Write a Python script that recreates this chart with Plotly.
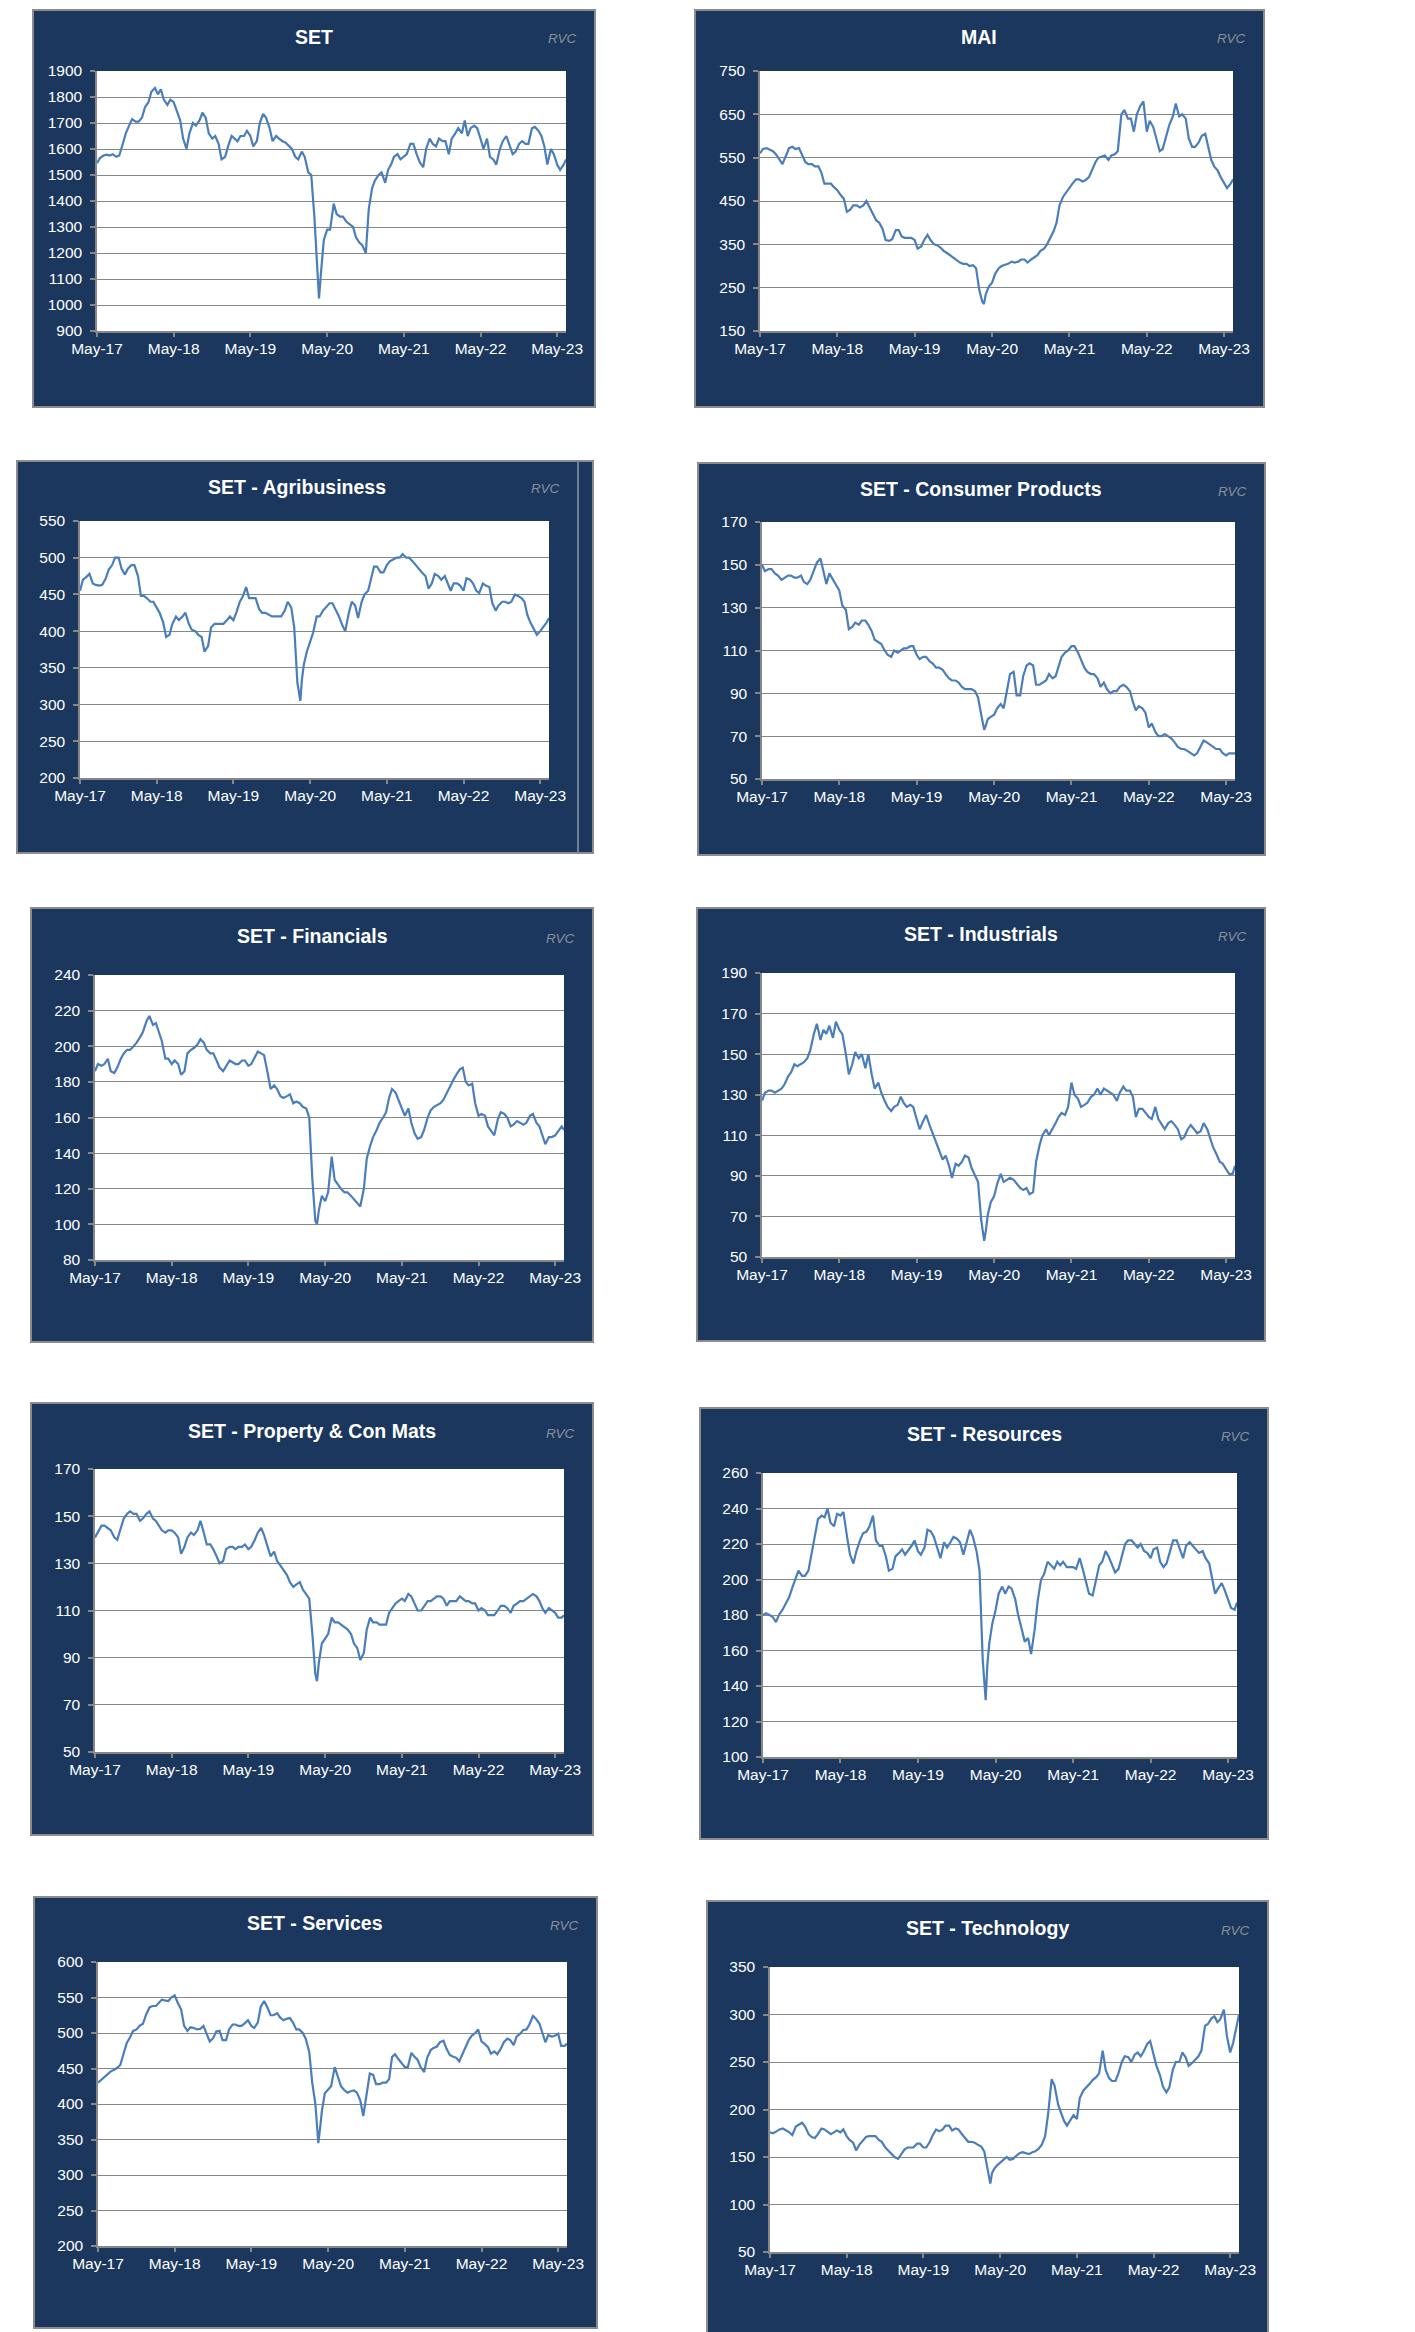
import pandas as pd
import plotly.graph_objects as go

W, H = 1415, 2332
OFF = 8  # the page body margin shifts the figure by 8px
FONT = "Liberation Sans, Arial, sans-serif"
NAVY = "#1B375E"
BORDER = "#8C8C8C"
GRID = "#878787"
LINE = "#4A7EBB"

# Sampling dates: 1st and 15th of each month, plus the Covid low (23 Mar 2020) and the last point
dates = list(pd.date_range("2017-05-01", "2023-06-01", freq="SMS"))
dates.insert(dates.index(pd.Timestamp("2020-04-01")), pd.Timestamp("2020-03-23"))
dates.append(pd.Timestamp("2023-06-12"))

TICK_DATES = ["2017-05-01", "2018-05-01", "2019-05-01", "2020-05-01",
              "2021-05-01", "2022-05-01", "2023-05-01"]
TICK_TEXT = ["May-17", "May-18", "May-19", "May-20", "May-21", "May-22", "May-23"]

SET = [1545,1565,1575,1578,1575,1580,1570,1575,1620,1660,1690,1715,1705,1705,1720,1760,1780,1820,1835,1810,1830,1790,1770,1790,
       1780,1750,1710,1640,1600,1660,1700,1690,1710,1740,1720,1660,1640,1650,1620,1560,1570,1610,1650,1640,1630,1650,1650,1670,
       1650,1610,1630,1700,1735,1720,1680,1630,1650,1640,1630,1625,1610,1600,1570,1560,1590,1570,1510,1500,1340,1120,1025,1120,1250,
       1290,1290,1390,1350,1340,1340,1320,1310,1300,1260,1240,1230,1200,1370,1450,1480,1500,1510,1470,1520,1540,1570,1580,1560,
       1570,1580,1620,1620,1580,1550,1530,1600,1640,1620,1610,1640,1630,1630,1580,1640,1660,1680,1660,1710,1650,1680,1690,1680,
       1640,1600,1640,1570,1560,1540,1600,1630,1650,1620,1580,1590,1620,1630,1620,1620,1680,1685,1670,1650,1610,1540,1600,1580,
       1540,1520,1540,1560]

MAI = [560,570,572,568,565,558,545,535,555,572,575,570,572,558,540,535,535,530,530,515,490,490,490,482,
       475,465,455,425,430,440,440,435,440,450,435,420,405,400,385,360,358,362,383,383,368,365,365,365,
       360,340,345,360,372,360,350,348,342,335,330,325,318,312,308,305,305,300,302,295,245,218,212,235,252,
       262,282,295,300,303,305,310,308,310,315,315,308,315,320,325,335,340,350,365,380,400,440,460,470,
       482,490,500,500,495,498,505,520,540,550,552,555,545,555,558,565,650,660,640,640,610,650,670,680,
       610,635,620,595,565,570,600,625,645,675,645,650,640,595,575,575,585,600,605,575,545,530,520,505,
       490,480,490,500]

AGRI = [455,470,474,478,465,463,462,463,472,484,490,500,500,485,477,485,490,490,475,448,448,445,440,440,
        432,425,412,392,395,410,420,415,420,425,410,402,400,395,392,372,380,405,410,410,410,410,415,420,
        415,425,440,447,460,445,445,445,430,425,425,423,420,420,420,420,428,440,432,405,330,305,335,355,372,
        385,398,420,420,428,432,438,438,428,420,408,400,425,440,435,418,440,450,455,470,488,488,480,480,
        490,495,498,500,500,505,500,500,495,490,485,480,475,458,465,478,475,470,475,465,455,465,465,462,
        455,472,470,465,455,452,465,462,460,438,428,435,440,440,438,440,450,448,445,440,422,412,403,395,
        400,405,412,418]

CONSUMER = [150,147,148,148,146,145,143,144,145,145,144,144,145,142,141,143,147,151,153,147,141,146,143,141,
            138,131,129,120,121,123,122,124,124,122,119,115,114,113,110,108,107,110,109,110,111,111,112,112,
            108,106,107,107,105,104,102,102,101,99,97,96,96,95,93,92,92,92,91,88,80,73,75,78,79,
            80,83,85,83,92,99,100,89,89,98,103,104,103,94,94,95,96,99,97,98,102,107,109,110,
            112,112,109,106,102,100,99,99,97,93,95,92,90,91,91,93,94,93,91,86,82,84,83,81,
            74,76,72,70,70,71,70,69,67,65,64,64,63,62,61,62,65,68,67,66,65,64,64,62,
            61,62,62,62]

FIN = [186,190,189,190,193,186,185,188,193,196,198,198,200,202,205,208,214,217,212,213,208,203,193,193,
       190,192,190,184,186,196,198,199,201,204,202,198,196,196,192,188,186,189,192,191,190,190,192,192,
       189,190,194,197,196,195,185,176,178,176,172,171,172,173,168,169,168,166,165,160,125,102,100,108,116,
       113,118,138,125,122,120,118,118,116,114,112,110,120,137,144,149,153,157,160,163,171,176,174,170,
       165,161,165,157,151,148,149,153,160,164,166,167,168,170,174,177,181,184,187,188,180,178,179,168,
       161,162,161,155,152,150,159,163,162,160,155,156,158,157,156,157,161,162,157,155,150,145,149,149,
       150,152,155,153]

IND = [127,131,132,132,131,132,133,135,139,141,145,144,145,146,148,152,160,165,157,162,160,164,158,166,
       162,160,150,140,145,151,148,150,143,150,140,133,136,131,127,124,122,124,125,129,126,124,125,124,
       118,113,117,120,115,111,107,102,98,100,95,89,96,95,97,100,99,94,90,87,68,58,63,71,77,
       80,86,91,87,88,89,88,86,84,83,84,81,82,97,105,110,113,110,113,116,119,121,120,124,
       136,130,128,124,125,126,129,130,133,130,133,132,131,130,127,131,134,132,132,129,119,123,123,121,
       119,118,124,118,115,113,116,117,115,113,108,109,113,115,113,111,112,116,113,108,104,101,97,96,
       93,91,91,95]

PROP = [141,143,146,146,145,144,141,140,145,149,151,152,151,151,148,149,151,152,149,148,146,144,143,144,
        144,143,141,134,137,141,143,142,144,148,143,138,138,136,133,130,131,136,137,137,136,137,137,138,
        136,137,140,143,145,142,137,133,135,131,129,127,125,122,120,121,122,119,117,115,100,83,80,88,96,
        98,100,107,105,105,104,103,102,100,96,94,89,92,102,107,105,105,104,104,104,109,111,113,114,
        115,114,117,116,113,110,110,112,114,114,115,116,116,115,112,114,114,114,116,115,114,114,113,113,
        110,111,110,108,108,108,110,112,112,111,109,112,113,114,114,115,116,117,116,114,111,109,111,110,
        109,107,107,108]

RES = [180,181,180,179,176,180,183,186,190,195,200,205,202,202,205,214,225,234,236,235,240,232,230,237,
       236,238,224,214,209,216,222,226,227,230,236,222,219,219,213,205,206,213,215,217,214,216,219,222,
       216,214,218,228,227,224,218,212,221,218,221,224,223,221,214,221,228,224,216,205,155,132,152,164,175,
       183,192,196,192,196,195,189,180,172,165,167,158,172,188,200,203,210,208,206,210,208,210,207,207,
       207,206,212,206,198,192,191,198,208,210,216,213,208,204,206,212,220,222,222,220,218,220,216,215,
       212,217,218,210,207,209,216,222,222,217,212,219,221,219,217,215,216,212,209,200,192,195,198,194,
       188,184,183,187]

SERV = [430,434,438,442,446,448,451,455,472,486,494,503,505,510,513,525,536,538,538,543,547,546,545,550,
        553,543,533,510,503,508,507,505,506,510,497,488,493,502,503,490,490,505,512,512,510,510,514,518,
        510,507,515,537,545,537,525,525,528,522,518,520,521,515,505,505,500,492,473,430,400,345,365,390,415,
        420,425,452,438,425,420,416,418,419,416,405,383,420,443,441,428,428,430,430,435,466,470,463,458,
        452,452,472,467,462,452,445,465,476,479,481,487,489,478,469,467,465,460,472,482,490,496,500,505,
        488,485,480,471,474,470,478,487,492,490,483,495,499,504,505,512,524,520,513,500,487,497,495,496,
        499,482,482,485]

TECH = [176,175,177,179,180,178,176,173,182,184,186,182,174,171,170,174,180,179,176,174,176,178,176,179,
        172,168,165,157,163,167,171,172,172,172,168,166,160,157,154,150,148,153,158,160,160,160,164,164,
        160,160,166,173,179,177,179,183,183,178,180,179,174,170,166,166,165,163,161,156,140,122,133,137,141,
        144,147,150,147,148,151,154,155,154,153,155,156,159,163,172,195,232,225,205,196,188,183,189,194,
        190,212,220,223,227,231,234,238,262,242,233,230,230,238,250,256,255,250,258,260,256,261,269,272,
        258,246,236,224,218,223,242,250,250,260,255,246,249,252,256,262,288,290,296,298,292,295,305,278,
        260,270,290,300]

TITLES = ["SET", "MAI", "SET - Agribusiness", "SET - Consumer Products", "SET - Financials",
          "SET - Industrials", "SET - Property & Con Mats", "SET - Resources", "SET - Services",
          "SET - Technology"]
SERIES = [SET, MAI, AGRI, CONSUMER, FIN, IND, PROP, RES, SERV, TECH]
Y_RANGES = [(900, 1900, 100), (150, 750, 100), (200, 550, 50), (50, 170, 20), (80, 240, 20),
            (50, 190, 20), (50, 170, 20), (100, 260, 20), (200, 600, 50), (50, 350, 50)]

# layout geometry (page pixels): box, plot area, title centre x / y
GEOM = [
    dict(box=(33, 595, 10, 407), plot=(97, 566, 71, 331), cx=314, ty=37),
    dict(box=(695, 1264, 10, 407), plot=(760, 1233, 71, 331), cx=979, ty=37),
    dict(box=(17, 593, 461, 853), plot=(80, 549, 521, 778), cx=297, ty=487, inner=578),
    dict(box=(698, 1265, 463, 855), plot=(762, 1235, 522, 779), cx=981, ty=489),
    dict(box=(31, 593, 908, 1342), plot=(95, 564, 975, 1260), cx=312, ty=936),
    dict(box=(697, 1265, 908, 1341), plot=(762, 1235, 973, 1257), cx=981, ty=934),
    dict(box=(31, 593, 1403, 1835), plot=(95, 564, 1469, 1752), cx=312, ty=1431),
    dict(box=(700, 1268, 1408, 1839), plot=(763, 1237, 1473, 1757), cx=984, ty=1434),
    dict(box=(34, 597, 1897, 2328), plot=(98, 567, 1962, 2246), cx=315, ty=1923),
    dict(box=(707, 1268, 1901, 2345), plot=(770, 1239, 1967, 2252), cx=987, ty=1928),
]


def fx(px):
    return (px - OFF) / W


def fy(py):
    return 1 - (py - OFF) / H


fig = go.Figure()
shapes, annotations, layout_axes = [], [], {}

for i, (title, vals, (ymin, ymax, dt), g) in enumerate(zip(TITLES, SERIES, Y_RANGES, GEOM), start=1):
    sfx = "" if i == 1 else str(i)
    fig.add_trace(go.Scatter(x=dates, y=vals, mode="lines",
                             line=dict(color=LINE, width=2.2),
                             xaxis="x" + sfx, yaxis="y" + sfx,
                             showlegend=False, hoverinfo="skip"))
    bx0, bx1, by0, by1 = g["box"]
    px0, px1, py0, py1 = g["plot"]
    shapes.append(dict(type="rect", xref="paper", yref="paper", layer="below",
                       x0=fx(bx0), x1=fx(bx1), y0=fy(by1), y1=fy(by0),
                       fillcolor=NAVY, line=dict(color=BORDER, width=2)))
    if "inner" in g:
        shapes.append(dict(type="line", xref="paper", yref="paper", layer="below",
                           x0=fx(g["inner"]), x1=fx(g["inner"]), y0=fy(by1), y1=fy(by0),
                           line=dict(color="#6F7F94", width=2)))
    shapes.append(dict(type="rect", xref="paper", yref="paper", layer="below",
                       x0=fx(px0), x1=fx(px1), y0=fy(py1), y1=fy(py0),
                       fillcolor="white", line=dict(width=0)))
    tickfont = dict(color="white", size=15.5, family=FONT)
    layout_axes["xaxis" + sfx] = dict(
        domain=[fx(px0), fx(px1)], anchor="y" + sfx, type="date",
        range=["2017-05-01", "2023-06-12"], tickvals=TICK_DATES, ticktext=TICK_TEXT,
        showgrid=False, showline=True, linecolor=GRID, linewidth=1.5,
        ticks="outside", ticklen=4, tickcolor=GRID, tickwidth=1.5, automargin=False,
        tickfont=tickfont, ticklabelstandoff=-1, fixedrange=True, zeroline=False)
    layout_axes["yaxis" + sfx] = dict(
        domain=[fy(py1), fy(py0)], anchor="x" + sfx,
        range=[ymin, ymax], tick0=ymin, dtick=dt,
        showgrid=True, gridcolor=GRID, gridwidth=1.2, automargin=False,
        showline=True, linecolor=GRID, linewidth=1.5,
        ticks="outside", ticklen=5, tickcolor=GRID, tickwidth=1.5,
        tickfont=tickfont, ticklabelstandoff=5, fixedrange=True, zeroline=False)
    annotations.append(dict(text=title, xref="paper", yref="paper",
                            x=fx(g["cx"]), y=fy(g["ty"]), xanchor="center", yanchor="middle",
                            showarrow=False,
                            font=dict(color="white", size=19.5, family=FONT, weight="bold")))
    rvc_right = g.get("inner", bx1) - 16
    annotations.append(dict(text="RVC", xref="paper", yref="paper",
                            x=fx(rvc_right), y=fy(g["ty"] + 2), xanchor="right", yanchor="middle",
                            showarrow=False,
                            font=dict(color="#8A8F98", size=13.5, family=FONT, style="italic")))

fig.update_layout(width=W, height=H,
                  margin=dict(l=0, r=0, t=0, b=0, pad=0, autoexpand=False),
                  paper_bgcolor="white", plot_bgcolor="white",
                  showlegend=False, shapes=shapes, annotations=annotations,
                  **layout_axes)

fig.write_html("out.html")
